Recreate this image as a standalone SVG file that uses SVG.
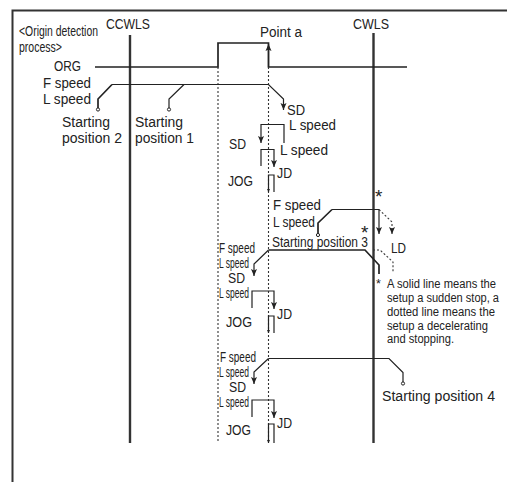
<svg xmlns="http://www.w3.org/2000/svg" width="507" height="482" viewBox="0 0 507 482">
<style>
text{font-family:"Liberation Sans",Arial,sans-serif;fill:#222;font-size:14px}
.n{font-size:12.500px}
.t{font-size:19px}
.l{fill:none;stroke:#222;stroke-width:1.2}
.h{fill:none;stroke:#222;stroke-width:1.7}
.b{fill:none;stroke:#333;stroke-width:2.4}
.d{fill:none;stroke:#333;stroke-width:1.1;stroke-dasharray:2 2}
.o{fill:#fff;stroke:#222;stroke-width:1}
</style>
<defs>
<marker id="v" markerWidth="7" markerHeight="8" refX="7" refY="3.5" orient="auto" markerUnits="userSpaceOnUse"><path d="M0 0.500L7 3.500L0 6.500L1.500 3.500Z" fill="#222"/></marker>
<marker id="m" markerWidth="4" markerHeight="4" refX="3" refY="2" orient="auto" markerUnits="userSpaceOnUse"><path d="M0 0.500L3 2L0 3.500Z" fill="#222"/></marker>
</defs>
<path d="M507 10.500H12.500V482" fill="none" stroke="#333" stroke-width="2"/>
<g id="connectors">
<path class="b" d="M130 35V443M373.500 33V443"/>
<path class="h" d="M95 67H218V43H268.500V67H407"/>
<path class="d" d="M218 67V443M268.500 67V443"/>
<path class="l" d="M268.500 67V44" marker-end="url(#v)"/>
<path class="h" d="M98 108V99L112 84.500"/>
<path class="l" d="M112 84.500H268.500L283.500 99V110" marker-end="url(#v)"/>
<path class="l" d="M169 108V99L184 84.500"/>
<path class="l" d="M284 143V124.500H261V143" marker-end="url(#v)"/>
<path class="l" d="M261 166V149.500H274V167" marker-end="url(#v)"/>
<path class="l" d="M274 192V175H268.500V192" marker-end="url(#m)"/>
<path class="h" d="M318 233V223L332 209.500"/>
<path class="l" d="M332 209.500H379"/>
<path class="l" d="M379 209.500V234" marker-end="url(#v)"/>
<path class="d" d="M379 209.500L392 222V234" marker-end="url(#v)"/>
<path class="h" d="M268.500 250H365L379 265V274"/>
<path class="l" d="M268.500 250L254 264V276" marker-end="url(#v)"/>
<path class="d" d="M373 250H380L393 262V273"/>
<path class="l" d="M252 308V291H274V309" marker-end="url(#v)"/>
<path class="l" d="M274 333V316H268.500V333" marker-end="url(#m)"/>
<path class="l" d="M268.500 358.500H389L403 372.500V382"/>
<path class="l" d="M268.500 358.500L254 372V384" marker-end="url(#v)"/>
<path class="l" d="M252 417V400H274V418" marker-end="url(#v)"/>
<path class="l" d="M274 443V424H268.500V443" marker-end="url(#m)"/>
</g>
<g id="terminals">
<circle class="o" cx="98" cy="109.500" r="1.600"/><circle class="o" cx="169" cy="109.500" r="1.600"/><circle class="o" cx="318" cy="235" r="1.600"/><circle class="o" cx="403" cy="383.500" r="1.600"/>
</g>
<g id="labels">
<text lengthAdjust="spacingAndGlyphs" x="106" y="29" textLength="44">CCWLS</text>
<text lengthAdjust="spacingAndGlyphs" x="353" y="29" textLength="36">CWLS</text>
<text lengthAdjust="spacingAndGlyphs" x="260" y="37" textLength="42">Point a</text>
<text lengthAdjust="spacingAndGlyphs" x="19" y="36" textLength="79">&lt;Origin detection</text>
<text lengthAdjust="spacingAndGlyphs" x="19" y="52" textLength="43">process&gt;</text>
<text lengthAdjust="spacingAndGlyphs" x="54" y="71" textLength="27">ORG</text>
<text lengthAdjust="spacingAndGlyphs" x="43" y="88" textLength="48">F speed</text>
<text lengthAdjust="spacingAndGlyphs" x="43" y="104" textLength="48">L speed</text>
<text lengthAdjust="spacingAndGlyphs" x="62" y="127" textLength="48">Starting</text>
<text lengthAdjust="spacingAndGlyphs" x="62" y="143" textLength="60">position 2</text>
<text lengthAdjust="spacingAndGlyphs" x="135" y="127" textLength="48">Starting</text>
<text lengthAdjust="spacingAndGlyphs" x="135" y="143" textLength="59">position 1</text>
<text lengthAdjust="spacingAndGlyphs" x="287" y="115" textLength="18">SD</text>
<text lengthAdjust="spacingAndGlyphs" x="289" y="130" textLength="47">L speed</text>
<text lengthAdjust="spacingAndGlyphs" x="229" y="149" textLength="17">SD</text>
<text lengthAdjust="spacingAndGlyphs" x="280" y="155" textLength="48">L speed</text>
<text lengthAdjust="spacingAndGlyphs" x="228" y="186" textLength="25">JOG</text>
<text lengthAdjust="spacingAndGlyphs" x="277" y="178" textLength="15">JD</text>
<text lengthAdjust="spacingAndGlyphs" x="273" y="210" textLength="48">F speed</text>
<text lengthAdjust="spacingAndGlyphs" x="273" y="227" textLength="42">L speed</text>
<text lengthAdjust="spacingAndGlyphs" x="272" y="247" textLength="96">Starting position 3</text>
<text class="t" x="375" y="203">*</text>
<text class="t" x="361" y="239">*</text>
<text lengthAdjust="spacingAndGlyphs" x="391" y="253" textLength="15">LD</text>
<text lengthAdjust="spacingAndGlyphs" x="219" y="253" textLength="36">F speed</text>
<text lengthAdjust="spacingAndGlyphs" x="219" y="268" textLength="30">L speed</text>
<text lengthAdjust="spacingAndGlyphs" x="228" y="283" textLength="17">SD</text>
<text lengthAdjust="spacingAndGlyphs" x="219" y="298" textLength="30">L speed</text>
<text lengthAdjust="spacingAndGlyphs" x="226" y="327" textLength="26">JOG</text>
<text lengthAdjust="spacingAndGlyphs" x="277" y="319" textLength="15">JD</text>
<text class="n" x="376" y="288">*</text>
<text lengthAdjust="spacingAndGlyphs" class="n" x="387" y="288" textLength="109">A solid line means the</text>
<text lengthAdjust="spacingAndGlyphs" class="n" x="387" y="302" textLength="112">setup a sudden stop, a</text>
<text lengthAdjust="spacingAndGlyphs" class="n" x="387" y="316" textLength="108">dotted line means the</text>
<text lengthAdjust="spacingAndGlyphs" class="n" x="387" y="330" textLength="101">setup a decelerating</text>
<text lengthAdjust="spacingAndGlyphs" class="n" x="387" y="343" textLength="67">and stopping.</text>
<text lengthAdjust="spacingAndGlyphs" x="220" y="362" textLength="36">F speed</text>
<text lengthAdjust="spacingAndGlyphs" x="219" y="377" textLength="30">L speed</text>
<text lengthAdjust="spacingAndGlyphs" x="229" y="392" textLength="17">SD</text>
<text lengthAdjust="spacingAndGlyphs" x="219" y="407" textLength="30">L speed</text>
<text lengthAdjust="spacingAndGlyphs" x="226" y="435" textLength="25">JOG</text>
<text lengthAdjust="spacingAndGlyphs" x="277" y="428" textLength="15">JD</text>
<text lengthAdjust="spacingAndGlyphs" x="382" y="401" textLength="113">Starting position 4</text>
</g>
</svg>
